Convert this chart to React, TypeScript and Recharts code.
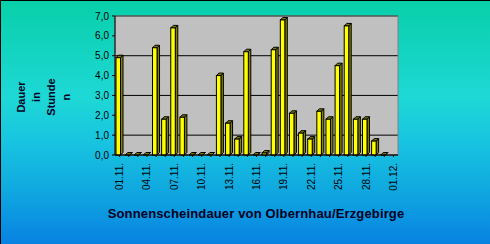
import React from 'react';
import { BarChart, Bar, XAxis, YAxis, CartesianGrid, ReferenceArea } from 'recharts';

const days = [
  '01.11.', '02.11.', '03.11.', '04.11.', '05.11.', '06.11.', '07.11.', '08.11.', '09.11.', '10.11.',
  '11.11.', '12.11.', '13.11.', '14.11.', '15.11.', '16.11.', '17.11.', '18.11.', '19.11.', '20.11.',
  '21.11.', '22.11.', '23.11.', '24.11.', '25.11.', '26.11.', '27.11.', '28.11.', '29.11.', '30.11.',
  '01.12.',
];
const sunHours: (number | null)[] = [
  4.9, 0, 0, 0, 5.4, 1.8, 6.4, 1.9, 0, 0,
  0, 4.0, 1.6, 0.8, 5.2, 0, 0.1, 5.3, 6.8, 2.1,
  1.1, 0.8, 2.2, 1.8, 4.5, 6.5, 1.8, 1.8, 0.7, 0,
  null,
];
const yTicks = [0, 1, 2, 3, 4, 5, 6, 7];
const chartTitle = 'Sonnenscheindauer von Olbernhau/Erzgebirge';
const yLabelLines = ['Dauer', 'in', 'Stunde', 'n'];

const data = days.map((d, i) => ({ day: d, hours: sunHours[i] }));

const FONT = "Arial, 'Liberation Sans', sans-serif";

function Bar3D(props: any) {
  const { x, y, width, height } = props;
  if (x == null || y == null || props.value == null) return null;
  const d = 2.5;
  const fw = width - d;
  const h = Math.max(height || 0, 0);
  return (
    <g>
      <polygon
        points={`${x + fw},${y} ${x + fw + d},${y - d} ${x + fw + d},${y + h - d} ${x + fw},${y + h}`}
        fill="#808000"
        stroke="#000"
        strokeWidth={1}
      />
      <polygon
        points={`${x},${y} ${x + d},${y - d} ${x + fw + d},${y - d} ${x + fw},${y}`}
        fill="#808000"
        stroke="#000"
        strokeWidth={1}
      />
      <rect x={x} y={y} width={fw} height={h} fill="#FFFF00" stroke="#000" strokeWidth={1} />
    </g>
  );
}

function XTick(props: any) {
  const { x, y, payload, index } = props;
  if (index % 3 !== 0) return null;
  return (
    <text
      x={x}
      y={y}
      transform={`rotate(-90 ${x} ${y})`}
      textAnchor="end"
      dy="0.35em"
      fontSize={10}
      fontFamily={FONT}
      fill="#000"
    >
      {payload.value}
    </text>
  );
}

export default function App() {
  return (
    <div
      style={{
        position: 'absolute',
        left: 0,
        top: 0,
        width: 490,
        height: 244,
        background:
          'linear-gradient(to bottom, #08CFA8 0%, #14D4C2 22%, #1ED8D6 40%, #18C4E0 58%, #10A8E0 78%, #0882E2 100%)',
        boxShadow: 'inset 1px 1px 0 #000',
      }}
    >
      <BarChart
        width={490}
        height={244}
        data={data}
        margin={{ top: 16, right: 92, bottom: 49, left: 75 }}
        barSize={7}
      >
        <CartesianGrid vertical={false} stroke="#000" fill="#C0C0C0" />
        <ReferenceArea y1={0} y2={7} fill="none" stroke="#808080" strokeWidth={1} />
        <XAxis
          dataKey="day"
          interval={0}
          tick={<XTick />}
          tickSize={2}
          tickMargin={6}
          height={40}
          axisLine={{ stroke: '#000' }}
          tickLine={{ stroke: '#000' }}
        />
        <YAxis
          domain={[0, 7]}
          ticks={yTicks}
          width={40}
          tickSize={3}
          tickMargin={3}
          tickFormatter={(v: number) => v.toFixed(1).replace('.', ',')}
          tick={{ fontSize: 10, fontFamily: FONT, fill: '#000' }}
          axisLine={{ stroke: '#000' }}
          tickLine={{ stroke: '#000' }}
        />
        <Bar dataKey="hours" shape={<Bar3D />} isAnimationActive={false} />
      </BarChart>
      <svg
        width={490}
        height={244}
        style={{ position: 'absolute', left: 0, top: 0, pointerEvents: 'none' }}
      >
        <text
          x={256}
          y={218}
          textAnchor="middle"
          fontSize={13}
          letterSpacing={0.15}
          fontWeight="bold"
          fontFamily={FONT}
          fill="#000022"
        >
          {chartTitle}
        </text>
        {yLabelLines.map((line, i) => {
          const bx = 25 + i * 15;
          const cy = 97;
          return (
            <text
              key={line}
              x={bx}
              y={cy}
              transform={`rotate(-90 ${bx} ${cy})`}
              textAnchor="middle"
              fontSize={11}
              fontWeight="bold"
              fontFamily={FONT}
              fill="#000022"
            >
              {line}
            </text>
          );
        })}
      </svg>
    </div>
  );
}
